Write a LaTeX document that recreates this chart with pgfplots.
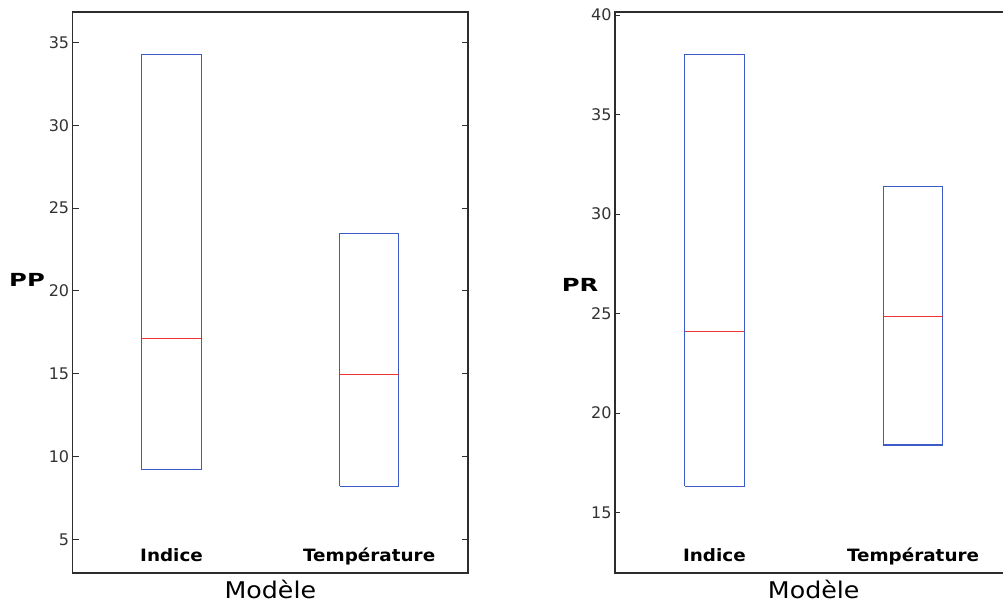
\documentclass[border=0pt]{standalone}
\usepackage{fontspec}
\setmainfont{DejaVu Sans}
\usepackage{pgfplots}
\pgfplotsset{compat=1.18}
\definecolor{boxblue}{RGB}{60,90,200}
\definecolor{medred}{RGB}{240,50,50}
\definecolor{axgray}{RGB}{45,45,45}
\pgfplotsset{
  mystyle/.style={
    scale only axis, width=395.3pt, height=561pt,
    xmin=0.5, xmax=2.5, xtick=\empty,
    axis line style={axgray, line width=1.2pt},
    ytick align=inside, major tick length=6pt,
    tick style={axgray, line width=0.9pt},
    yticklabel style={font=\fontsize{16}{19}\selectfont, text=black!80},
    /pgf/number format/assume math mode=true,
    clip=false,
  },
  boxp/.style={draw=boxblue, line width=1.1pt, mark=none, line join=miter},
  medp/.style={draw=medred, line width=1.1pt, mark=none},
}
\newcommand{\catfont}{\bfseries\fontsize{17}{20}\selectfont}
\newcommand{\cat}[1]{\scalebox{1.08}[1]{#1}}
\newcommand{\mlabel}{\scalebox{1.1}[1]{Modèle}}
\begin{document}
\begin{tikzpicture}[x=1pt,y=1pt]
\path[use as bounding box] (0,0) rectangle (1003,603);
% left panel
\begin{axis}[mystyle, at={(72.7pt,30pt)}, anchor=south west,
  ymin=2.98, ymax=36.83, ytick={5,10,...,35}]
\addplot[boxp] coordinates {(0.85,9.2) (1.15,9.2) (1.15,34.26) (0.85,34.26) (0.85,9.2)};
\addplot[boxp] coordinates {(1.85,8.22) (2.15,8.22) (2.15,23.45) (1.85,23.45) (1.85,8.22)};
\addplot[medp] coordinates {(0.85,17.11) (1.15,17.11)};
\addplot[medp] coordinates {(1.85,14.96) (2.15,14.96)};
\node[anchor=base, font=\catfont, yshift=11.3pt] at (rel axis cs:0.25,0) {\cat{Indice}};
\node[anchor=base, font=\catfont, yshift=11.3pt] at (rel axis cs:0.75,0) {\cat{Température}};
\node[anchor=base, font=\fontsize{23}{27}\selectfont, yshift=-25pt] at (rel axis cs:0.5,0) {\mlabel};
\end{axis}
% right panel
\begin{axis}[mystyle, at={(615pt,30pt)}, anchor=south west, width=397.4pt,
  ymin=11.97, ymax=40.15, ytick={15,20,...,40}, major tick length=5pt]
\addplot[boxp] coordinates {(0.85,16.33) (1.15,16.33) (1.15,38.0) (0.85,38.0) (0.85,16.33)};
\addplot[boxp] coordinates {(1.85,18.4) (2.15,18.4) (2.15,31.37) (1.85,31.37) (1.85,18.4)};
\addplot[medp] coordinates {(0.85,24.08) (1.15,24.08)};
\addplot[medp] coordinates {(1.85,24.85) (2.15,24.85)};
\node[anchor=base, font=\catfont, yshift=11.3pt] at (rel axis cs:0.25,0) {\cat{Indice}};
\node[anchor=base, font=\catfont, yshift=11.3pt] at (rel axis cs:0.75,0) {\cat{Température}};
\node[anchor=base, font=\fontsize{23}{27}\selectfont, yshift=-25pt] at (rel axis cs:0.5,0) {\mlabel};
\end{axis}
\node[anchor=base west, inner sep=0, font=\bfseries\fontsize{18}{21}\selectfont] at (9,316.3) {\scalebox{1.35}[1]{PP}};
\node[anchor=base west, inner sep=0, font=\bfseries\fontsize{18}{21}\selectfont] at (561.7,311.3) {\scalebox{1.35}[1]{PR}};
\end{tikzpicture}
\end{document}
